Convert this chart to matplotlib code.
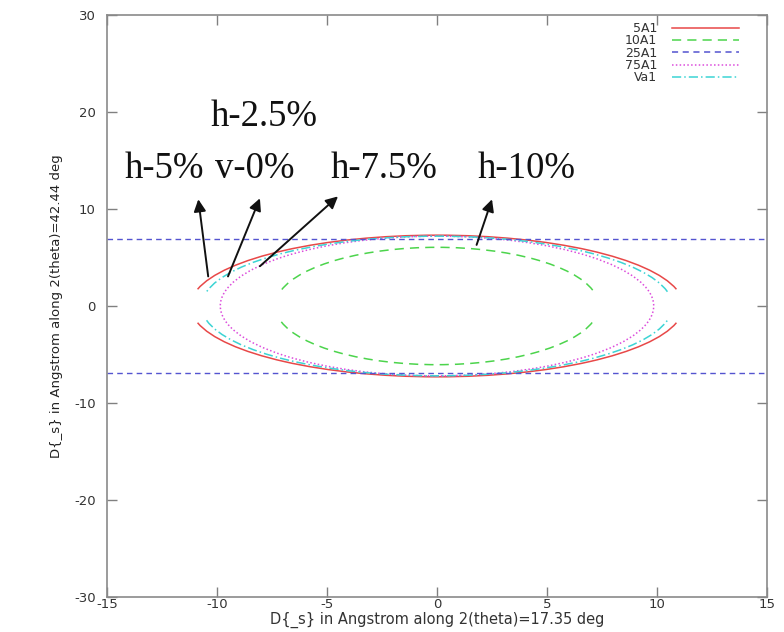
#!/usr/bin/env python3

# ellipse plot of D_s along two 2(theta) directions

import matplotlib
matplotlib.use("Agg")
import matplotlib.pyplot as plt
from matplotlib.patches import Arc, Ellipse
from matplotlib.lines import Line2D

plt.rcParams["axes.unicode_minus"] = False

# series names, colours and line styles
names = ["5A1", "10A1", "25A1", "75A1", "Va1"]
colors = ["#e84848", "#4cd44c", "#5454d0", "#dc4cdc", "#3cd4d4"]
styles = ["-", (0, (6, 4)), (0, (4, 3)), (0, (1, 1.5)), (0, (6, 2, 1, 2))]

# ellipse semi axes (x, y) in Angstrom
semi_x = {"5A1": 11.2, "10A1": 7.35, "75A1": 9.85, "Va1": 10.7}
semi_y = {"5A1": 7.3, "10A1": 6.05, "75A1": 7.2, "Va1": 7.2}
# angle where each side gap of the ellipse opens (deg), 0 = closed
gap_deg = {"5A1": 9, "10A1": 13, "75A1": 0, "Va1": 8}

# 25A1 is two flat lines
flat_y = [6.9, -6.9]

# annotation texts (left x, baseline y)
lab_txt = ["h-2.5%", "h-5%", "v-0%", "h-7.5%", "h-10%"]
lab_x = [-10.3, -14.2, -10.1, -4.85, 1.85]
lab_y = [18.6, 13.2, 13.2, 13.2, 13.2]

# arrows: tail on the curve, head near the text
arr_tail = [(-10.4, 3.05), (-9.5, 3.05), (-8.05, 4.1), (1.8, 6.3)]
arr_head = [(-10.85, 11.0), (-8.05, 11.1), (-4.5, 11.3), (2.5, 11.0)]

fig = plt.figure(figsize=(7.84, 6.32), dpi=100)
ax = fig.add_axes([107 / 784, 1 - 597 / 632, 660 / 784, 582 / 632])

for i, n in enumerate(names):
    if n == "25A1":
        for yy in flat_y:
            ax.axhline(yy, color=colors[i], ls=styles[i], lw=1.0)
        continue
    w = 2 * semi_x[n]
    h = 2 * semi_y[n]
    g = gap_deg[n]
    if g == 0:
        ax.add_patch(Ellipse((0, 0), w, h, fill=False, ec=colors[i],
                             ls=styles[i], lw=1.1))
    else:
        ax.add_patch(Arc((0, 0), w, h, theta1=g, theta2=180 - g,
                         ec=colors[i], ls=styles[i], lw=1.1))
        ax.add_patch(Arc((0, 0), w, h, theta1=180 + g, theta2=360 - g,
                         ec=colors[i], ls=styles[i], lw=1.1))

for t, x, y in zip(lab_txt, lab_x, lab_y):
    ax.text(x, y, t, family="Liberation Serif", fontsize=26.5,
            ha="left", va="baseline", color="#111111")

for tl, hd in zip(arr_tail, arr_head):
    ax.annotate("", xy=hd, xytext=tl,
                arrowprops=dict(arrowstyle="-|>", color="#111111", lw=1.4,
                                mutation_scale=18, shrinkA=0, shrinkB=0))

ax.set_xlim(-15, 15)
ax.set_ylim(-30, 30)
ax.set_xticks([-15, -10, -5, 0, 5, 10, 15])
ax.set_yticks([-30, -20, -10, 0, 10, 20, 30])
ax.tick_params(direction="in", length=7, width=1, color="#808080",
               top=True, right=True, labelsize=9.5, labelcolor="#333333")
ax.tick_params(axis="x", pad=1)
ax.tick_params(axis="y", pad=8)
for s in ax.spines.values():
    s.set_color("#8a8a8a")
    s.set_linewidth(1.2)

ax.set_xlabel("D{_s} in Angstrom along 2(theta)=17.35 deg", fontsize=10.5,
              color="#333333", labelpad=0)
ax.set_ylabel("D{_s} in Angstrom along 2(theta)=42.44 deg", fontsize=9.5,
              color="#222222", labelpad=8)

handles = [Line2D([], [], color=c, ls=s, lw=1.1) for c, s in zip(colors, styles)]
ax.legend(handles, names, loc="upper right", bbox_to_anchor=(0.957, 0.988),
          frameon=False, markerfirst=False, fontsize=9, labelspacing=-0.05,
          handlelength=5.3, handletextpad=1.2, borderpad=0, borderaxespad=0,
          labelcolor="#333333")

fig.savefig("out.png", dpi=100)
